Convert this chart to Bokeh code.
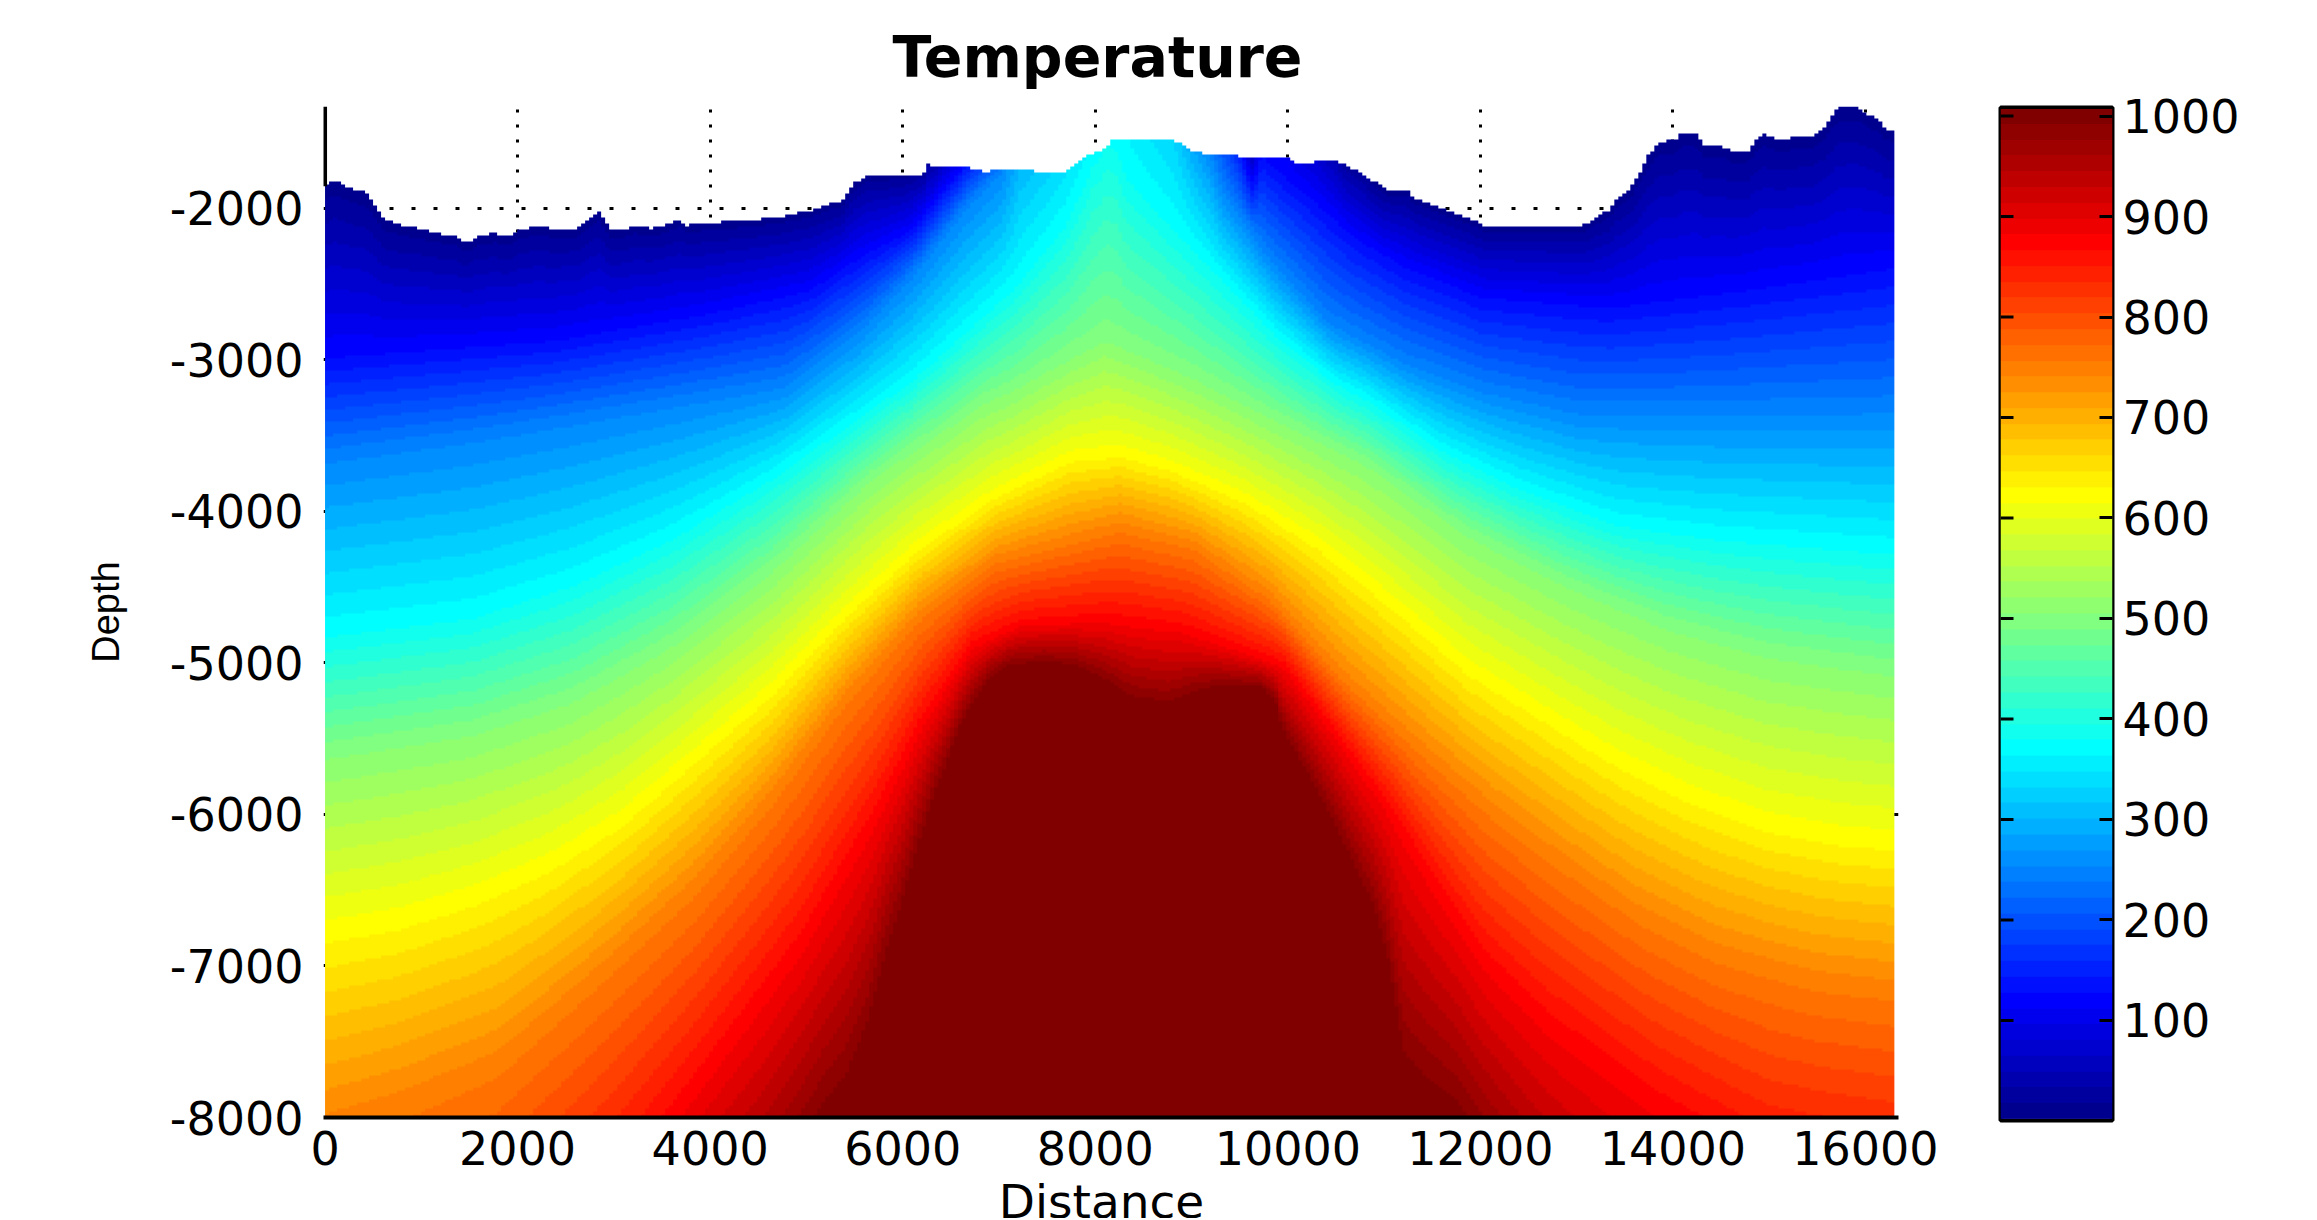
import numpy as np
from bokeh.core.properties import value
from bokeh.embed import file_html
from bokeh.resources import INLINE
from bokeh.layouts import column, row
from bokeh.models import FixedTicker, LinearColorMapper, Range1d
from bokeh.plotting import figure

# ---- values ----
title_text = "Temperature"
x_label = "Distance"
y_label = "Depth"
x_ticks = [0, 2000, 4000, 6000, 8000, 10000, 12000, 14000, 16000]
y_ticks = [-8000, -7000, -6000, -5000, -4000, -3000, -2000]
cbar_ticks = [100, 200, 300, 400, 500, 600, 700, 800, 900, 1000]

surface_x = [0, 106, 292, 424, 519, 609, 795, 980, 1192, 1378, 1431, 1510, 1563, 1749, 1908, 2014, 2199, 2358, 2623,
             2676, 2766, 2862, 2941, 2978, 3126, 3232, 3391, 3524, 3683, 3763, 3975, 4477, 4742, 4875, 5034, 5230,
             5362, 5405, 5500, 5633, 6211, 6264, 6306, 6650, 6836, 7207, 7392, 7684, 7790, 7922, 8044, 8187, 8812,
             8997, 9252, 9718, 10015, 10068, 10507, 10608, 10736, 10852, 11038, 11223, 11329, 11488, 11753, 11913,
             12044, 13068, 13263, 13343, 13406, 13555, 13650, 13741, 13846, 14031, 14085, 14233, 14323, 14509, 14599,
             14774, 14837, 14959, 14996, 15145, 15314, 15452, 15595, 15674, 15717, 15897, 15992, 16151, 16178, 16300]
surface_y = [-1853, -1815, -1875, -1892, -1985, -2073, -2112, -2134, -2165, -2187, -2222, -2222, -2187, -2165, -2183,
             -2145, -2112, -2132, -2132, -2095, -2051, -2016, -2112, -2145, -2132, -2112, -2132, -2112, -2073, -2112,
             -2095, -2073, -2053, -2033, -2016, -1974, -1954, -1914, -1835, -1776, -1776, -1703, -1723, -1723, -1756,
             -1736, -1756, -1756, -1703, -1644, -1624, -1545, -1545, -1624, -1644, -1663, -1663, -1703, -1683, -1723,
             -1754, -1809, -1875, -1875, -1934, -1974, -2033, -2073, -2112, -2112, -2033, -2013, -1934, -1875, -1765,
             -1655, -1567, -1545, -1505, -1505, -1584, -1584, -1624, -1624, -1567, -1505, -1525, -1545, -1525, -1525,
             -1446, -1369, -1327, -1327, -1364, -1424, -1468, -1485]

surface_temp_x = [0, 6000, 6300, 6650, 6836, 7207, 7684, 8100, 8812, 9200, 9500, 9620, 9720, 10000, 10300, 10600, 11000, 16300]
surface_temp = [8, 8, 30, 140, 200, 300, 345, 380, 330, 250, 150, 60, 130, 110, 80, 25, 8, 8]

iso125_x = [0, 2385, 3975, 5034, 5564, 6094, 6411, 6624, 7000, 9000, 9740, 10270, 10693, 11223, 12019, 13343, 14668, 16300]
iso125_y = [-2975, -2865, -2688, -2535, -2315, -2139, -1875, -1723, -1200, -1200, -1663, -1940, -2183, -2380, -2579, -2645, -2535, -2380]
iso250_x = [0, 1534, 3100, 4769, 5564, 6094, 6624, 7020, 7100, 9150, 9200, 9315, 9793, 10429, 11223, 12000, 13000, 14000, 16300]
iso250_y = [-3655, -3518, -3350, -3173, -2799, -2447, -2007, -1745, -1200, -1200, -1650, -1875, -2315, -2755, -3019, -3200, -3340, -3350, -3330]
iso375_x = [0, 1534, 2568, 3601, 4634, 5668, 6094, 6624, 7154, 7684, 7922, 8050, 8150, 8309, 8838, 9368, 9899, 10500, 10835, 11611, 12386, 13419, 14452, 16300]
iso375_y = [-4806, -4685, -4473, -4170, -3776, -3321, -3129, -2821, -2513, -2095, -1765, -1500, -1400, -1765, -2139, -2491, -2843, -3151, -3261, -3594, -3836, -4079, -4170, -4261]
iso500_x = [0, 1534, 2568, 3601, 4634, 5668, 6856, 7100, 7800, 8100, 9000, 9492, 10835, 11869, 12902, 13936, 14969, 16300]
iso500_y = [-5594, -5443, -5231, -4867, -4382, -3776, -3261, -3200, -2950, -2850, -3100, -3261, -3685, -4140, -4473, -4746, -4927, -5049]
iso625_x = [0, 759, 1534, 2309, 3084, 3859, 4634, 5409, 6184, 6960, 7735, 8252, 8769, 9544, 10319, 11094, 11869, 12644, 13419, 14194, 14969, 15744, 16300]
iso625_y = [-6800, -6716, -6564, -6352, -6049, -5625, -5200, -4685, -4230, -3897, -3655, -3624, -3715, -3927, -4230, -4624, -5049, -5352, -5655, -5897, -6079, -6170, -6200]
iso750_x = [0, 759, 1792, 2826, 3859, 4634, 5409, 6184, 6960, 8252, 9027, 9802, 10577, 11352, 12127, 12902, 13677, 14452, 15486, 16300]
iso750_y = [-8080, -7928, -7655, -7079, -6473, -5897, -5231, -4685, -4321, -4109, -4230, -4564, -5109, -5564, -5988, -6352, -6685, -6928, -7110, -7170]
iso875_x = [0, 2000, 3000, 3808, 4376, 4944, 5720, 6236, 6701, 7218, 8086, 8872, 9957, 10319, 11042, 11559, 12024, 12696, 13419, 13884, 14500, 15000, 16300]
iso875_y = [-10800, -9300, -8525, -7837, -7352, -6867, -6019, -5352, -4897, -4746, -4715, -4776, -5018, -5321, -5958, -6503, -6958, -7382, -7716, -7928, -8150, -8350, -8500]
iso1000_x = [0, 4500, 5184, 5416, 5647, 5833, 5972, 6157, 6297, 6482, 6575, 6760, 6899, 7085, 7456, 7780, 8059, 8383, 8754, 9032, 9264, 9705, 9867, 9937, 10053, 10284, 10470, 10702, 10887, 11026, 11142, 11212, 11444, 11768, 12500, 16300]
iso1000_y = [-12000, -8700, -7991, -7815, -7441, -6957, -6693, -6253, -5945, -5637, -5461, -5241, -5109, -5032, -5006, -5032, -5120, -5252, -5289, -5208, -5171, -5164, -5263, -5461, -5593, -5857, -6077, -6407, -6649, -6979, -7441, -7683, -7837, -7991, -8700, -12000]

isotherms = [(125, iso125_x, iso125_y), (250, iso250_x, iso250_y), (375, iso375_x, iso375_y),
             (500, iso500_x, iso500_y), (625, iso625_x, iso625_y), (750, iso750_x, iso750_y),
             (875, iso875_x, iso875_y), (1000, iso1000_x, iso1000_y)]

# ---- field on the coarse raster of the original ----
X_MAX = 16300
X_AXIS_START, X_AXIS_END = -16, 16343
Y_MIN, Y_MAX = -8000, -1327
NX, NY = 392, 337
xc = (np.arange(NX) + 0.5) / NX * X_MAX
yc = Y_MIN + (np.arange(NY) + 0.5) / NY * (Y_MAX - Y_MIN)

field = np.full((NY, NX), np.nan)
for i, x in enumerate(xc):
    ys = np.interp(x, surface_x, surface_y)
    ts = np.interp(x, surface_temp_x, surface_temp)
    depth, temp = [ys], [ts]
    for t, ix, iy in isotherms:
        yy = np.interp(x, ix, iy)
        if t > temp[-1] and yy < depth[-1] - 1:
            depth.append(yy)
            temp.append(t)
    col = np.interp(-yc, -np.array(depth), temp)
    col[yc > ys] = np.nan
    field[:, i] = col


def jet(n):
    out = []
    for k in range(1, n + 1):
        t = k / n
        r = np.clip(min(4 * t - 1.5, -4 * t + 4.5), 0, 1)
        g = np.clip(min(4 * t - 0.5, -4 * t + 3.5), 0, 1)
        b = np.clip(min(4 * t + 0.5, -4 * t + 2.5), 0, 1)
        out.append("#%02x%02x%02x" % (round(r * 255), round(g * 255), round(b * 255)))
    return out


mapper = LinearColorMapper(palette=jet(64), low=2, high=1007, nan_color="#00000000")

TICK_FONT = "DejaVu Sans"
TICK_SIZE = "46px"

p = figure(width=1975, height=1178, output_backend="svg", toolbar_location=None,
           x_range=Range1d(X_AXIS_START, X_AXIS_END), y_range=Range1d(Y_MIN, Y_MAX),
           min_border_left=323, min_border_right=77, min_border_top=106, min_border_bottom=61,
           outline_line_color=None, background_fill_color="white")
p.image(image=[field], x=0, y=Y_MIN, dw=X_MAX, dh=Y_MAX - Y_MIN, color_mapper=mapper)
# left spine is only visible above the surface; right stub at -6000
p.segment(x0=[0], y0=[surface_y[0]], x1=[0], y1=[Y_MAX], line_color="black", line_width=4)
p.segment(x0=[X_MAX], y0=[-6000], x1=[X_AXIS_END], y1=[-6000], line_color="black", line_width=3)

p.title.text = title_text
p.title.align = "left"
p.title.offset = 569
p.title.text_font = "DejaVu Sans"
p.title.text_font_style = "bold"
p.title.text_font_size = "57px"
p.title.text_color = "black"
p.title.standoff = 33

for ax in (p.xaxis[0], p.yaxis[0]):
    ax.major_label_text_font = TICK_FONT
    ax.major_label_text_font_size = TICK_SIZE
    ax.major_label_text_color = "black"
    ax.major_tick_line_color = None
    ax.minor_tick_line_color = None
    ax.axis_label_text_color = "black"
    ax.axis_label_text_font_style = "normal"

p.xaxis[0].axis_line_color = "black"
p.xaxis[0].axis_line_width = 4
p.yaxis[0].axis_line_color = None
p.xaxis[0].ticker = FixedTicker(ticks=x_ticks)
p.yaxis[0].ticker = FixedTicker(ticks=y_ticks)
p.xaxis[0].formatter.use_scientific = False
p.yaxis[0].major_label_overrides = {t: str(t) for t in y_ticks}
p.xaxis[0].major_label_standoff = 7
p.yaxis[0].major_label_standoff = 14

p.yaxis[0].axis_label = y_label
p.yaxis[0].axis_label_text_font = "Liberation Sans"
p.yaxis[0].axis_label_text_font_size = "38px"
p.yaxis[0].axis_label_standoff = 40

p.xgrid[0].ticker = FixedTicker(ticks=x_ticks[1:])
p.ygrid[0].ticker = FixedTicker(ticks=y_ticks)
p.xgrid[0].grid_line_color = "black"
p.xgrid[0].grid_line_width = 3
p.xgrid[0].grid_line_dash = "3 12"
p.ygrid[0].grid_line_color = "black"
p.ygrid[0].grid_line_width = 3
p.ygrid[0].grid_line_dash = "4 18"

# ---- x axis title, in its own strip under the tick labels ----
lab = figure(width=1975, height=40, output_backend="svg", toolbar_location=None,
             x_range=Range1d(0, 1575), y_range=Range1d(0, 40), x_axis_location=None, y_axis_location=None,
             min_border=0, outline_line_color=None)
lab.xgrid.visible = False
lab.ygrid.visible = False
lab.text(x=[778], y=[17], text=[x_label], text_align="center", text_baseline="alphabetic",
         text_font=value("DejaVu Sans"), text_font_size="47px", text_color="black")

# ---- colour bar ----
C_LOW, C_HIGH = 0.4, 1008.5
TICK_REACH = 13 / 112
band_values = np.linspace(mapper.low, mapper.high, 64, endpoint=False) + (mapper.high - mapper.low) / 128
cb = figure(width=334, height=1218, output_backend="svg", toolbar_location=None,
            x_range=Range1d(0, 1), y_range=Range1d(C_LOW, C_HIGH), y_axis_location="right",
            x_axis_location=None, min_border_left=25, min_border_right=197, min_border_top=107, min_border_bottom=98,
            outline_line_color="black", outline_line_width=4)
cb.xgrid.visible = False
cb.ygrid.visible = False
cb.image(image=[band_values.reshape(64, 1)], x=0, y=mapper.low, dw=1, dh=mapper.high - mapper.low, color_mapper=mapper)
cb.segment(x0=[0] * len(cbar_ticks), x1=[TICK_REACH] * len(cbar_ticks), y0=cbar_ticks, y1=cbar_ticks,
           line_color="black", line_width=3)

right = cb.yaxis[0]
right.ticker = FixedTicker(ticks=cbar_ticks)
right.major_tick_in = 13
right.major_tick_out = 0
right.major_tick_line_color = "black"
right.major_tick_line_width = 3
right.minor_tick_line_color = None
right.axis_line_color = None
right.major_label_text_font = TICK_FONT
right.major_label_text_font_size = TICK_SIZE
right.major_label_text_color = "black"
right.major_label_standoff = 10

layout = row(column(p, lab, spacing=0), cb, spacing=0)
open("out.html", "w").write(file_html(layout, INLINE))
